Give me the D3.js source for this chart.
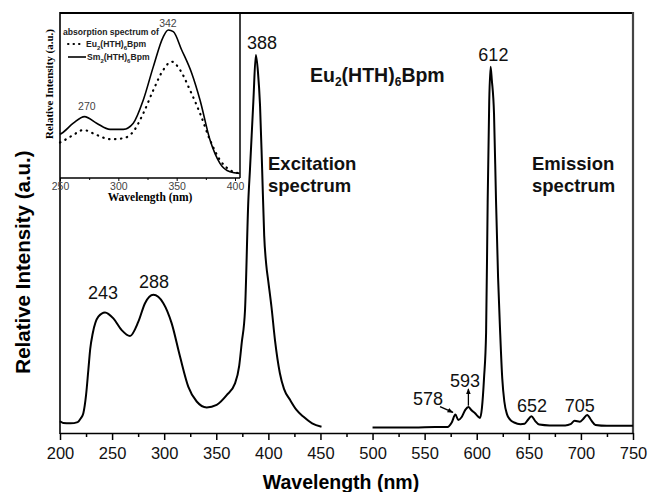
<!DOCTYPE html>
<html>
<head>
<meta charset="utf-8">
<script src="https://cdn.jsdelivr.net/npm/d3@7"></script>
<style>
  body { margin: 0; background: #fff; }
  svg { display: block; }
  .sans { font-family: "Liberation Sans", Arial, sans-serif; }
  .serif { font-family: "Liberation Serif", "Times New Roman", serif; }
</style>
</head>
<body>
<svg id="chart" width="648" height="492"></svg>
<script>
// excitation spectrum (main panel)
const excWl  = [200, 203, 210, 217, 220, 222.4, 225, 227.2, 229, 231.4, 236.8, 243.2, 251.2, 259.2, 267.2, 275.2, 281.6, 289.6, 299.2, 307.2, 315.2, 323.2, 331.2, 340.8, 350.4, 360, 368, 372, 374.4, 377.6, 380.8, 382.4, 385.6, 388, 390, 392, 394, 396, 398, 400, 403, 406.4, 411, 415, 420.8, 427, 433.5, 442, 451];
const excInt = [2.8, 2.4, 2.3, 2.6, 3.5, 4.7, 9, 15, 20, 23.7, 27.7, 28.7, 27.3, 24.5, 23.1, 26.5, 30.9, 32.9, 30.9, 26.1, 18.2, 11, 7.5, 6.1, 6.7, 9, 11.8, 16, 21.4, 29.3, 55.5, 63, 79, 90, 86, 78, 63, 47, 40, 36, 30, 22, 14.3, 10.5, 7.9, 5.5, 3.9, 2.3, 1.5];

// emission spectrum (main panel)
const emWl  = [500, 520, 540, 560, 572, 576, 579.5, 582.3, 585.6, 589, 592, 595, 598.4, 601, 603.2, 605, 607, 609, 610.5, 612, 613.3, 614.5, 616.6, 618.5, 620.5, 622.4, 624.5, 626.5, 629, 632, 636, 642, 646, 649, 652.5, 656, 660, 670, 685, 690, 694, 699, 702, 706, 710, 714, 725, 740, 750];
const emInt = [1.3, 1.3, 1.3, 1.4, 1.4, 2.5, 4.4, 3.1, 3.8, 5.5, 6.2, 5.4, 4.7, 4.0, 3.6, 6, 13, 24, 55, 79, 87.2, 84, 76, 55.5, 37, 24.5, 13, 7.5, 4.5, 3.2, 2.5, 2.1, 2.2, 3.1, 4.0, 2.9, 2.0, 1.8, 1.8, 2.1, 2.9, 2.7, 3.3, 4.3, 3.0, 1.9, 1.7, 1.7, 1.7];

// absorption spectra (inset)
const absWl = [250, 251.5, 261.4, 271, 281.4, 292.9, 304.3, 312.8, 321.4, 330, 338.5, 342.8, 347.1, 354.3, 362.9, 370, 378.6, 387.1, 395.7, 404];
const smAbs = [26.5, 27.1, 33.2, 37.2, 33.2, 29.5, 29.5, 33.2, 47.3, 67.5, 85.6, 89.7, 88.7, 77.6, 63.5, 47.3, 23, 8.9, 3.8, 2.8];
const euAbsWl = [250, 251.5, 261.4, 270, 281.4, 292.9, 304.3, 312.8, 321.4, 330, 338.5, 345.7, 352.9, 361.4, 370, 378.6, 387.1, 395.7, 404];
const euAbs   = [21.5, 22, 26.1, 29.1, 26.1, 23.5, 24.1, 28.1, 39.2, 53.3, 65.5, 70.5, 65.5, 53.3, 39.2, 23, 10.9, 4.8, 2.8];

const mainTicks  = d3.range(200, 751, 50);
const mainMinor  = d3.range(225, 750, 50);
const insetTicks = [250, 300, 350, 400];
const insetMinor = [275, 325, 375];

// peak labels: [wavelength of label centre, intensity of label baseline, text]
const peakLabels = [
  [241.3, 32, "243"], [290.2, 34.5, "288"], [394, 91.5, "388"], [616, 88.5, "612"],
  [553.2, 6.7, "578"], [588.7, 11, "593"], [653, 5, "652"], [699, 5, "705"]
];

const svg = d3.select("#chart");
const x = d3.scaleLinear().domain([200, 750]).range([60, 633]);
const y = d3.scaleLinear().domain([0, 100]).range([433, 13]);

const line = d3.line().x(d => x(d[0])).y(d => y(d[1])).curve(d3.curveMonotoneX);

// frame: top and right borders
svg.append("line").attr("x1", 60).attr("x2", 634).attr("y1", 13).attr("y2", 13)
  .attr("stroke", "#000").attr("stroke-width", 2);
svg.append("line").attr("x1", 633).attr("x2", 633).attr("y1", 12).attr("y2", 433)
  .attr("stroke", "#444").attr("stroke-width", 2.2);

// curves
svg.append("path").datum(d3.zip(excWl, excInt)).attr("d", line)
  .attr("fill", "none").attr("stroke", "#000").attr("stroke-width", 2);
svg.append("path").datum(d3.zip(emWl, emInt)).attr("d", line)
  .attr("fill", "none").attr("stroke", "#000").attr("stroke-width", 2);

// bottom axis
const xAxis = svg.append("g").attr("class", "sans").attr("transform", "translate(0,433)")
  .call(d3.axisBottom(x).tickValues(mainTicks).tickSize(7).tickPadding(7).tickSizeOuter(0));
xAxis.select(".domain").attr("stroke-width", 1.6);
xAxis.selectAll(".tick line").attr("stroke-width", 1.5);
xAxis.selectAll("text").attr("font-size", 16.5).attr("fill", "#111");
const xMinor = svg.append("g").attr("transform", "translate(0,433)")
  .call(d3.axisBottom(x).tickValues(mainMinor).tickSize(4).tickFormat("").tickSizeOuter(0));
xMinor.select(".domain").remove();
xMinor.selectAll(".tick line").attr("stroke-width", 1.5);

// left axis (no ticks)
svg.append("line").attr("x1", 60).attr("x2", 60).attr("y1", 12).attr("y2", 434)
  .attr("stroke", "#000").attr("stroke-width", 1.6);

// axis titles
svg.append("text").attr("class", "sans").attr("x", 341).attr("y", 489)
  .attr("text-anchor", "middle").attr("font-size", 19.5).attr("font-weight", "bold")
  .text("Wavelength (nm)");
svg.append("text").attr("class", "sans")
  .attr("transform", "translate(30,262) rotate(-90)")
  .attr("text-anchor", "middle").attr("font-size", 20.5).attr("font-weight", "bold")
  .text("Relative Intensity (a.u.)");

// peak labels
svg.selectAll(".peak").data(peakLabels).enter().append("text")
  .attr("class", "sans peak")
  .attr("x", d => x(d[0])).attr("y", d => y(d[1]))
  .attr("text-anchor", "middle").attr("font-size", 18).attr("fill", "#111")
  .text(d => d[2]);

// arrows for 578 and 593
const defs = svg.append("defs");
defs.append("marker").attr("id", "arr").attr("viewBox", "0 0 10 10")
  .attr("refX", 9).attr("refY", 5).attr("markerWidth", 6).attr("markerHeight", 6)
  .attr("orient", "auto").attr("markerUnits", "userSpaceOnUse")
  .append("path").attr("d", "M0,1 L10,5 L0,9 Z").attr("fill", "#000");
svg.append("line").attr("x1", x(564.8)).attr("y1", y(6.3)).attr("x2", x(577.2)).attr("y2", y(4.9))
  .attr("stroke", "#000").attr("stroke-width", 1.3).attr("marker-end", "url(#arr)");
svg.append("line").attr("x1", x(592)).attr("y1", y(6.5)).attr("x2", x(592)).attr("y2", y(10.5))
  .attr("stroke", "#000").attr("stroke-width", 1.3).attr("marker-end", "url(#arr)");

// compound and spectrum captions
const comp = svg.append("text").attr("class", "sans").attr("x", 310).attr("y", 82)
  .attr("font-size", 19.5).attr("font-weight", "bold").attr("fill", "#111");
comp.append("tspan").text("Eu");
comp.append("tspan").attr("font-size", 12).attr("dy", 4).text("2");
comp.append("tspan").attr("dy", -4).text("(HTH)");
comp.append("tspan").attr("font-size", 12).attr("dy", 4).text("6");
comp.append("tspan").attr("dy", -4).text("Bpm");

[["Excitation", 268, 170], ["spectrum", 268, 192], ["Emission", 532, 170], ["spectrum", 532, 192]]
  .forEach(t => svg.append("text").attr("class", "sans").attr("x", t[1]).attr("y", t[2])
    .attr("font-size", 18.5).attr("font-weight", "bold").attr("fill", "#111").text(t[0]));

// ---- inset ----
const x2 = d3.scaleLinear().domain([250, 400]).range([60, 235]);
const y2 = d3.scaleLinear().domain([0, 100]).range([178, 13]);
const inset = svg.append("g");
inset.append("line").attr("x1", 240).attr("x2", 240).attr("y1", 13).attr("y2", 178)
  .attr("stroke", "#000").attr("stroke-width", 1.5);
const line2 = d3.line().x(d => x2(d[0])).y(d => y2(d[1])).curve(d3.curveMonotoneX);
inset.append("path").datum(d3.zip(absWl, smAbs)).attr("d", line2)
  .attr("fill", "none").attr("stroke", "#000").attr("stroke-width", 1.6);
inset.append("path").datum(d3.zip(euAbsWl, euAbs)).attr("d", line2)
  .attr("fill", "none").attr("stroke", "#000").attr("stroke-width", 2.2)
  .attr("stroke-linecap", "round").attr("stroke-dasharray", "0.5,5.5");

const iAxis = inset.append("g").attr("class", "sans").attr("transform", "translate(0,178)")
  .call(d3.axisBottom(x2).tickValues(insetTicks).tickSize(3).tickPadding(2).tickSizeOuter(0));
iAxis.select(".domain").attr("d", "M60,0H240").attr("stroke-width", 1.5);
iAxis.selectAll("text").attr("font-size", 10.5).attr("fill", "#444");
const iMinor = inset.append("g").attr("transform", "translate(0,178)")
  .call(d3.axisBottom(x2).tickValues(insetMinor).tickSize(2).tickFormat("").tickSizeOuter(0));
iMinor.select(".domain").remove();

inset.append("text").attr("class", "serif").attr("x", 150).attr("y", 201)
  .attr("text-anchor", "middle").attr("font-size", 11.5).attr("font-weight", "bold")
  .text("Wavelength (nm)");
inset.append("text").attr("class", "serif")
  .attr("transform", "translate(53,84) rotate(-90)")
  .attr("text-anchor", "middle").attr("font-size", 11).attr("font-weight", "bold")
  .text("Relative Intensity (a.u.)");

inset.append("text").attr("class", "sans").attr("x", x2(342.5)).attr("y", y2(91.5))
  .attr("text-anchor", "middle").attr("font-size", 10.5).attr("fill", "#444").text("342");
inset.append("text").attr("class", "sans").attr("x", x2(273)).attr("y", y2(41.5))
  .attr("text-anchor", "middle").attr("font-size", 10.5).attr("fill", "#444").text("270");

// inset legend
inset.append("text").attr("class", "sans").attr("x", 63).attr("y", 35)
  .attr("font-size", 8.6).attr("font-weight", "bold").attr("fill", "#222")
  .text("absorption spectrum of");
inset.append("line").attr("x1", 68).attr("x2", 84).attr("y1", 44).attr("y2", 44)
  .attr("stroke", "#000").attr("stroke-width", 2).attr("stroke-linecap", "round")
  .attr("stroke-dasharray", "0.5,5");
inset.append("line").attr("x1", 68).attr("x2", 86).attr("y1", 57).attr("y2", 57)
  .attr("stroke", "#000").attr("stroke-width", 1.6);
[["Eu", 86, 47], ["Sm", 87, 60]].forEach(l => {
  const t = inset.append("text").attr("class", "sans").attr("x", l[1]).attr("y", l[2])
    .attr("font-size", 8.6).attr("font-weight", "bold").attr("fill", "#222");
  t.append("tspan").text(l[0]);
  t.append("tspan").attr("font-size", 6).attr("dy", 2.5).text("2");
  t.append("tspan").attr("dy", -2.5).text("(HTH)");
  t.append("tspan").attr("font-size", 6).attr("dy", 2.5).text("6");
  t.append("tspan").attr("dy", -2.5).text("Bpm");
});
</script>
</body>
</html>
